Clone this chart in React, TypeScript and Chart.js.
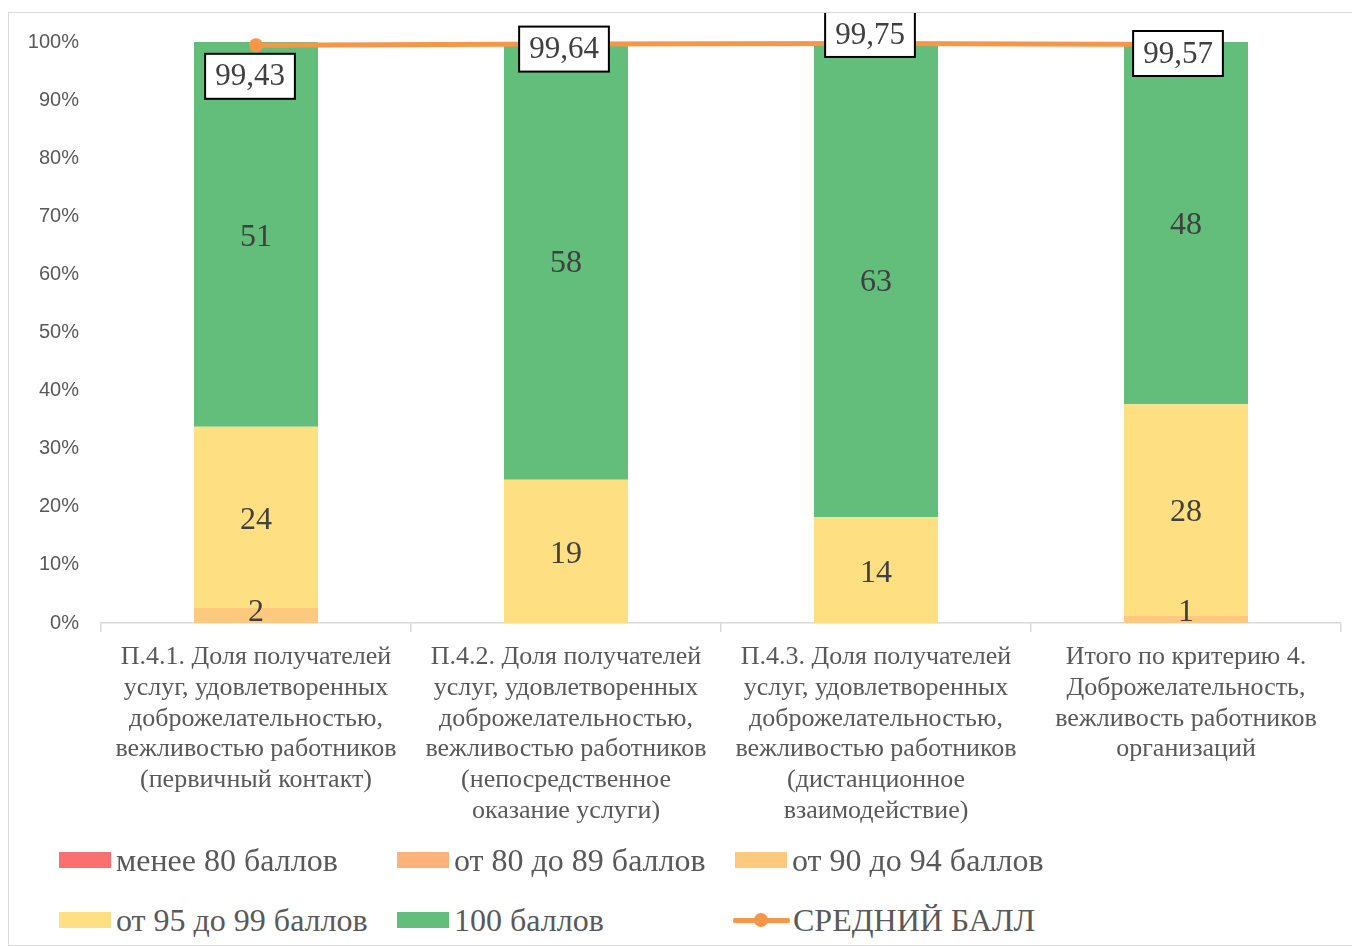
import React, { useEffect, useRef } from "react";
import { Chart, registerables } from "chart.js";

Chart.register(...registerables);

const categories: string[][] = [
  ["П.4.1. Доля получателей", "услуг, удовлетворенных", "доброжелательностью,", "вежливостью работников", "(первичный контакт)"],
  ["П.4.2. Доля получателей", "услуг, удовлетворенных", "доброжелательностью,", "вежливостью работников", "(непосредственное", "оказание услуги)"],
  ["П.4.3. Доля получателей", "услуг, удовлетворенных", "доброжелательностью,", "вежливостью работников", "(дистанционное", "взаимодействие)"],
  ["Итого по критерию 4.", "Доброжелательность,", "вежливость работников", "организаций"],
];

const seriesNames = ["менее 80 баллов", "от 80 до 89 баллов", "от 90 до 94 баллов", "от 95 до 99 баллов", "100 баллов"];
const lineName = "СРЕДНИЙ БАЛЛ";

const below80 = [0, 0, 0, 0];
const from80to89 = [0, 0, 0, 0];
const from90to94 = [2, 0, 0, 1];
const from95to99 = [24, 19, 14, 28];
const score100 = [51, 58, 63, 48];
const averageScore = [99.43, 99.64, 99.75, 99.57];

const yTickValues = [0, 10, 20, 30, 40, 50, 60, 70, 80, 90, 100];

const seriesColors = ["#FA7070", "#FCB27B", "#FDC97F", "#FEE083", "#63BE7B"];
const lineColor = "#F79646";

// label placement offsets (styling) for the average-score boxes
const avgLabelOffsets = [
  { dx: -6, dy: 31 },
  { dx: -2, dy: 5 },
  { dx: -6, dy: -9 },
  { dx: -8, dy: 9 },
];

const counts = [below80, from80to89, from90to94, from95to99, score100];
const totals = categories.map((_, i) => counts.reduce((s, arr) => s + arr[i], 0));
const percents = counts.map((arr) => arr.map((v, i) => (totals[i] ? (v / totals[i]) * 100 : 0)));

const labelPlugin = {
  id: "labelPlugin",
  afterDatasetsDraw(chart: any) {
    const ctx = chart.ctx;
    ctx.save();
    for (let d = 0; d < counts.length; d++) {
      const meta = chart.getDatasetMeta(d);
      meta.data.forEach((el: any, i: number) => {
        const v = counts[d][i];
        if (!v) return;
        ctx.font = "32px 'Liberation Serif'";
        ctx.fillStyle = "#404040";
        ctx.textAlign = "center";
        ctx.textBaseline = "middle";
        const cy = Math.min((el.y + el.base) / 2 + 3, el.base - 10);
        ctx.fillText(String(v), el.x, cy);
      });
    }
    const lmeta = chart.getDatasetMeta(counts.length);
    lmeta.data.forEach((el: any, i: number) => {
      const text = averageScore[i].toFixed(2).replace(".", ",");
      ctx.font = "31px 'Liberation Serif'";
      const w = ctx.measureText(text).width + 20;
      const h = 45;
      const cx = el.x + avgLabelOffsets[i].dx;
      const cy = el.y + avgLabelOffsets[i].dy;
      ctx.fillStyle = "#FFFFFF";
      ctx.fillRect(cx - w / 2, cy - h / 2, w, h);
      ctx.lineWidth = 2;
      ctx.strokeStyle = "#000000";
      ctx.strokeRect(cx - w / 2, cy - h / 2, w, h);
      ctx.fillStyle = "#404040";
      ctx.textAlign = "center";
      ctx.textBaseline = "middle";
      ctx.fillText(text, cx, cy + 1);
    });
    ctx.restore();
  },
};

export default function App() {
  const ref = useRef<HTMLCanvasElement | null>(null);

  useEffect(() => {
    if (!ref.current) return;
    const datasets: any[] = seriesNames.map((name, i) => ({
      type: "bar",
      label: name,
      data: percents[i],
      backgroundColor: seriesColors[i],
      borderWidth: 0,
      barPercentage: 1,
      categoryPercentage: 0.4,
      yAxisID: "y",
      order: 2,
    }));
    datasets.push({
      type: "line",
      label: lineName,
      data: averageScore,
      borderColor: lineColor,
      backgroundColor: lineColor,
      borderWidth: 5,
      pointRadius: 7,
      pointBackgroundColor: lineColor,
      pointBorderWidth: 0,
      yAxisID: "y1",
      order: 1,
      clip: false,
    });
    const chart = new Chart(ref.current, {
      type: "bar",
      data: { labels: categories, datasets },
      plugins: [labelPlugin],
      options: {
        responsive: false,
        devicePixelRatio: 1,
        animation: false,
        layout: { padding: { left: 0, right: 10, top: 29, bottom: 0 } },
        plugins: { legend: { display: false }, tooltip: { enabled: false } },
        scales: {
          x: {
            stacked: true,
            offset: true,
            grid: { offset: true, drawOnChartArea: false, drawTicks: true, tickLength: 9, color: "#D9D9D9", lineWidth: 1.5 },
            border: { display: true, color: "#D9D9D9", width: 1.5 },
            ticks: {
              autoSkip: false,
              maxRotation: 0,
              minRotation: 0,
              padding: 10,
              color: "#595959",
              font: { family: "'Liberation Serif'", size: 26, lineHeight: 30.7 / 26 },
            },
            afterFit(scale: any) {
              scale.height = 220;
              scale.paddingTop = 0;
              scale.paddingBottom = 0;
            },
          },
          y: {
            stacked: true,
            min: 0,
            max: 100,
            afterBuildTicks(scale: any) {
              scale.ticks = yTickValues.map((v) => ({ value: v }));
            },
            grid: { display: false, drawTicks: false },
            border: { display: false },
            ticks: {
              padding: 22,
              color: "#595959",
              font: { family: "'Liberation Sans'", size: 20 },
              callback: (v: any) => v + "%",
            },
            afterFit(scale: any) {
              scale.width = 92;
              scale.paddingTop = 0;
              scale.paddingBottom = 0;
            },
          },
          y1: {
            display: false,
            min: 0,
            max: 100,
            stacked: false,
          },
        },
      } as any,
    });
    return () => chart.destroy();
  }, []);

  const textStyle: React.CSSProperties = {
    marginLeft: 5,
    font: "32px 'Liberation Serif'",
    color: "#595959",
    whiteSpace: "nowrap",
    lineHeight: "16px",
  };

  const legendItem = (i: number, left: number, top: number) => (
    <div key={i} style={{ position: "absolute", left, top, height: 16, display: "flex", alignItems: "center" }}>
      <div style={{ width: 52, height: 16, background: seriesColors[i], flex: "none" }} />
      <span style={textStyle}>{seriesNames[i]}</span>
    </div>
  );

  return (
    <div
      style={{
        position: "relative",
        marginTop: 4,
        width: 1352,
        height: 934,
        boxSizing: "border-box",
        border: "1px solid #D9D9D9",
        background: "#FFFFFF",
        overflow: "hidden",
      }}
    >
      <canvas ref={ref} width={1342} height={830} style={{ position: "absolute", left: 0, top: 0 }} />
      {legendItem(0, 50, 839)}
      {legendItem(1, 388, 839)}
      {legendItem(2, 726, 839)}
      {legendItem(3, 50, 899)}
      {legendItem(4, 388, 899)}
      <div style={{ position: "absolute", left: 724, top: 899, height: 16, display: "flex", alignItems: "center" }}>
        <div style={{ position: "relative", width: 57, height: 16, flex: "none" }}>
          <div style={{ position: "absolute", left: 0, top: 6, width: 57, height: 5, background: lineColor, borderRadius: 2 }} />
          <div style={{ position: "absolute", left: 21, top: 1, width: 14, height: 14, background: lineColor, borderRadius: 7 }} />
        </div>
        <span style={{ ...textStyle, marginLeft: 3 }}>{lineName}</span>
      </div>
    </div>
  );
}
